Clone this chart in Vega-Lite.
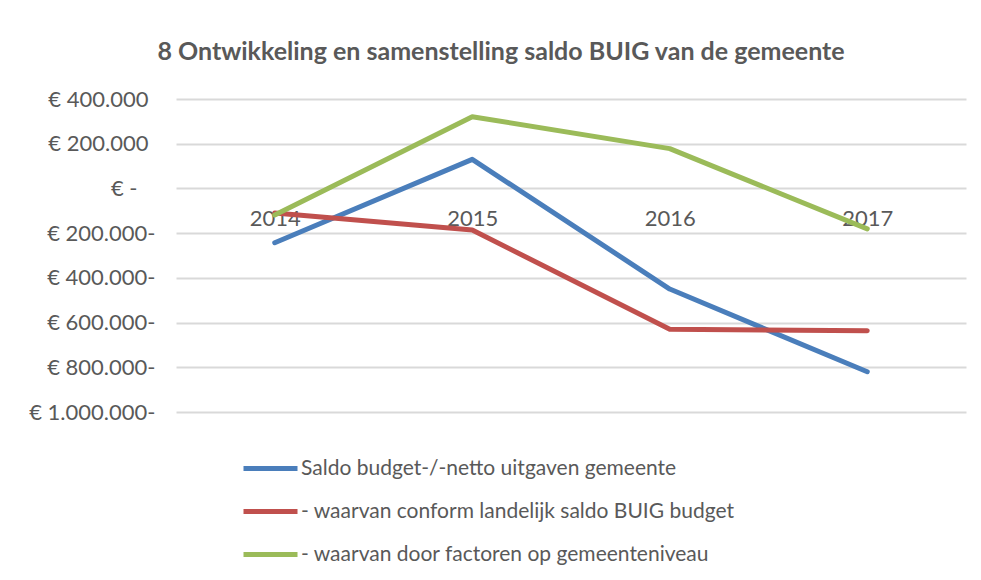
{
  "$schema": "https://vega.github.io/schema/vega-lite/v6.json",
  "width": 790,
  "height": 313,
  "autosize": {"type": "none"},
  "padding": {"left": 176, "top": 99, "right": 15, "bottom": 168},
  "background": "white",
  "title": {
    "text": "8 Ontwikkeling en samenstelling saldo BUIG van de gemeente",
    "font": "Lato",
    "fontSize": 25,
    "fontWeight": "bold",
    "color": "#595959",
    "anchor": "middle",
    "dx": -70,
    "offset": 23
  },
  "data": {
    "values": [
      {"year": "2014", "series": "Saldo budget-/-netto uitgaven gemeente", "value": -243000},
      {"year": "2015", "series": "Saldo budget-/-netto uitgaven gemeente", "value": 130000},
      {"year": "2016", "series": "Saldo budget-/-netto uitgaven gemeente", "value": -450000},
      {"year": "2017", "series": "Saldo budget-/-netto uitgaven gemeente", "value": -820000},
      {"year": "2014", "series": "- waarvan conform landelijk saldo BUIG budget", "value": -110000},
      {"year": "2015", "series": "- waarvan conform landelijk saldo BUIG budget", "value": -186000},
      {"year": "2016", "series": "- waarvan conform landelijk saldo BUIG budget", "value": -630000},
      {"year": "2017", "series": "- waarvan conform landelijk saldo BUIG budget", "value": -637000},
      {"year": "2014", "series": "- waarvan door factoren op gemeenteniveau", "value": -119000},
      {"year": "2015", "series": "- waarvan door factoren op gemeenteniveau", "value": 321000},
      {"year": "2016", "series": "- waarvan door factoren op gemeenteniveau", "value": 178000},
      {"year": "2017", "series": "- waarvan door factoren op gemeenteniveau", "value": -181000}
    ]
  },
  "mark": {"type": "line", "strokeWidth": 5, "strokeCap": "round", "strokeJoin": "round"},
  "encoding": {
    "x": {
      "field": "year",
      "type": "ordinal",
      "scale": {"type": "point", "padding": 0.5},
      "axis": {
        "title": null,
        "orient": "bottom",
        "offset": -224,
        "domain": false,
        "ticks": false,
        "tickSize": 0,
        "grid": false,
        "labelAngle": 0,
        "labelPadding": 20,
        "labelFont": "Lato",
        "labelFontSize": 22,
        "labelColor": "#595959"
      }
    },
    "y": {
      "field": "value",
      "type": "quantitative",
      "scale": {"domain": [-1000000, 400000], "nice": false, "zero": false},
      "axis": {
        "title": null,
        "values": [-1000000, -800000, -600000, -400000, -200000, 0, 200000, 400000],
        "domain": false,
        "ticks": false,
        "tickSize": 0,
        "labelPadding": {"condition": [{"test": "datum.value == 0", "value": 39}, {"test": "datum.value > 0", "value": 28}], "value": 21},
        "labelFont": "Lato",
        "labelFontSize": 22,
        "labelColor": "#595959",
        "gridColor": "#d9d9d9",
        "gridWidth": 2,
        "labelExpr": "datum.value == 0 ? '€ -' : (datum.value > 0 ? '€ ' + replace(replace(format(abs(datum.value), ','), ',', '.'), ',', '.') : '€ ' + replace(replace(format(abs(datum.value), ','), ',', '.'), ',', '.') + '-')"
      }
    },
    "color": {
      "field": "series",
      "type": "nominal",
      "scale": {
        "domain": ["Saldo budget-/-netto uitgaven gemeente", "- waarvan conform landelijk saldo BUIG budget", "- waarvan door factoren op gemeenteniveau"],
        "range": ["#4a7ebb", "#c0504d", "#9bbb59"]
      },
      "legend": {
        "title": null,
        "orient": "none",
        "legendX": 72,
        "legendY": 347,
        "padding": 0,
        "direction": "vertical",
        "symbolType": "M-1.35,0H1.35",
        "symbolSize": 1600,
        "symbolStrokeWidth": 5,
        "symbolFillColor": "transparent",
        "labelFont": "Lato",
        "labelFontSize": 21,
        "labelColor": "#595959",
        "labelOffset": 8,
        "rowPadding": 10,
        "labelLimit": 700
      }
    }
  },
  "config": {
    "view": {"stroke": null}
  }
}
